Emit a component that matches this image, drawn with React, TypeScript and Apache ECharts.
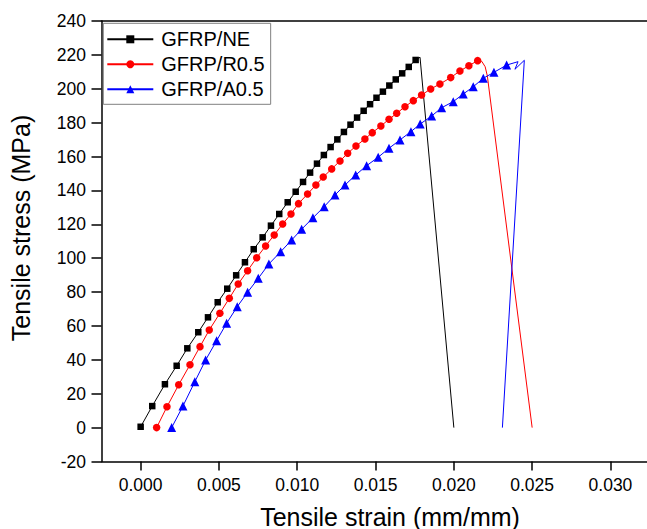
import React, { useEffect, useRef } from 'react';
import * as echarts from 'echarts';

// GFRP/NE (black squares)
const neStrain = [0.0, 0.00074, 0.00155, 0.0023, 0.00298, 0.00368, 0.0043, 0.00492, 0.00553, 0.0061, 0.00666, 0.00722, 0.00779, 0.00832, 0.00885, 0.00939, 0.0099, 0.01037, 0.01082, 0.01126, 0.0117, 0.01213, 0.01256, 0.01298, 0.0134, 0.01382, 0.01424, 0.01465, 0.01506, 0.01547, 0.01588, 0.01629, 0.0167, 0.01712, 0.01756];
const neStress = [0.5, 12.7, 25.6, 36.5, 46.8, 56.3, 65.1, 74.0, 82.0, 89.9, 97.6, 105.3, 112.3, 119.2, 126.1, 133.0, 139.2, 145.0, 150.5, 155.8, 160.9, 165.6, 170.1, 174.5, 178.8, 183.0, 187.0, 190.9, 194.7, 198.3, 201.9, 205.5, 209.1, 212.9, 217.0];
const neTailStrain = [0.01784, 0.02];
const neTailStress = [218.6, 0];

// GFRP/R0.5 (red circles)
const r05Strain = [0.00102, 0.00168, 0.00243, 0.00315, 0.00379, 0.00438, 0.00506, 0.00566, 0.00623, 0.00683, 0.00741, 0.00798, 0.00853, 0.00907, 0.0096, 0.01008, 0.01066, 0.01119, 0.01166, 0.0122, 0.01273, 0.01322, 0.01375, 0.01432, 0.01479, 0.01534, 0.01586, 0.01635, 0.01688, 0.01741, 0.01794, 0.01852, 0.01911, 0.0198, 0.02039, 0.02096, 0.02152];
const r05Stress = [0, 12.3, 25.3, 37.1, 47.8, 57.6, 67.5, 76.3, 84.8, 92.6, 100.3, 107.2, 113.7, 120.2, 126.1, 132.2, 137.9, 143.2, 147.9, 152.7, 157.4, 161.9, 166.2, 170.4, 174.1, 178.0, 182.0, 185.5, 189.4, 193.0, 196.3, 199.9, 202.8, 206.6, 210.5, 213.6, 216.6];
const r05TailStrain = [0.02178, 0.022, 0.02214, 0.025];
const r05TailStress = [216.2, 213.0, 207.5, 0];

// GFRP/A0.5 (blue triangles)
const a05Strain = [0.00198, 0.0027, 0.00346, 0.00415, 0.00485, 0.00549, 0.00617, 0.00683, 0.00751, 0.00819, 0.00894, 0.00964, 0.01028, 0.011, 0.01172, 0.01241, 0.01305, 0.01373, 0.01443, 0.01517, 0.01586, 0.01656, 0.01726, 0.01785, 0.01858, 0.01922, 0.01996, 0.0206, 0.02124, 0.02188, 0.02256, 0.02337];
const a05Stress = [0, 12.7, 27.1, 39.9, 51.3, 61.6, 71.4, 79.9, 88.1, 96.6, 103.8, 110.7, 117.1, 123.8, 130.4, 137.3, 143.2, 149.1, 154.6, 159.6, 164.9, 169.8, 174.7, 179.2, 183.9, 188.8, 192.4, 196.9, 201.2, 206.2, 209.7, 214.0];
const a05TailStrain = [0.0241, 0.0239, 0.0245, 0.0231];
const a05TailStress = [216.0, 211.5, 216.8, 0];

const seriesNames = ['GFRP/NE', 'GFRP/R0.5', 'GFRP/A0.5'];
const xTickValues = [0, 0.005, 0.01, 0.015, 0.02, 0.025, 0.03];
const xTitle = 'Tensile strain (mm/mm)';
const yTitle = 'Tensile stress (MPa)';

const FONT = '"Liberation Sans", Arial, sans-serif';

function build(xs: number[], ys: number[], tx: number[], ty: number[]) {
  return [
    ...xs.map((x, i) => [x, ys[i]]),
    ...tx.map((x, i) => ({ value: [x, ty[i]], symbol: 'none' })),
  ];
}

export default function App() {
  const ref = useRef<HTMLDivElement>(null);
  useEffect(() => {
    document.body.style.margin = '0';
    document.body.style.overflow = 'hidden';
    const chart = echarts.init(ref.current!, null, { renderer: 'svg' });
    const axisLineStyle = { color: '#000', width: 1.5 };
    const option: any = {
      animation: false,
      backgroundColor: '#fff',
      grid: { left: 101.5, top: 21, right: 0, bottom: 67.5, containLabel: false, outerBoundsMode: 'none' },
      legend: {
        orient: 'vertical',
        left: 103.3,
        top: 23.3,
        padding: [6, 6, 5, 3],
        itemWidth: 46,
        itemHeight: 10,
        itemGap: 5,
        borderColor: '#808080',
        borderWidth: 1,
        backgroundColor: '#fff',
        data: seriesNames,
        textStyle: { fontFamily: FONT, fontSize: 20, color: '#000', lineHeight: 20, padding: [0, 0, 0, 3] },
      },
      xAxis: [
        {
          type: 'value',
          min: -0.0025,
          max: 0.032334,
          position: 'bottom',
          axisLine: { show: true, onZero: false, lineStyle: axisLineStyle },
          axisTick: { show: true, inside: false, length: 9, customValues: xTickValues, lineStyle: axisLineStyle },
          axisLabel: {
            customValues: xTickValues,
            formatter: (v: number) => v.toFixed(3),
            fontFamily: FONT,
            fontSize: 17.5,
            color: '#000',
            margin: 14,
          },
          splitLine: { show: false },
        },
        {
          type: 'value',
          min: -0.0025,
          max: 0.032334,
          position: 'top',
          axisLine: { show: true, onZero: false, lineStyle: axisLineStyle },
          axisTick: { show: false },
          axisLabel: { show: false },
          splitLine: { show: false },
        },
      ],
      yAxis: {
        type: 'value',
        min: -20,
        max: 240,
        interval: 20,
        axisLine: { show: true, onZero: false, lineStyle: axisLineStyle },
        axisTick: { show: true, inside: false, length: 10, lineStyle: axisLineStyle },
        axisLabel: { fontFamily: FONT, fontSize: 17.5, color: '#000', margin: 15.5 },
        splitLine: { show: false },
      },
      graphic: [
        {
          type: 'text',
          x: 390,
          y: 516.5,
          style: { text: xTitle, font: `25px ${FONT}`, fill: '#000', align: 'center', verticalAlign: 'middle' },
        },
        {
          type: 'text',
          x: 20.5,
          y: 228,
          rotation: Math.PI / 2,
          style: { text: yTitle, font: `25px ${FONT}`, fill: '#000', align: 'center', verticalAlign: 'middle' },
        },
      ],
      series: [
        {
          name: seriesNames[0],
          type: 'line',
          data: build(neStrain, neStress, neTailStrain, neTailStress),
          symbol: 'rect',
          symbolSize: 6.5,
          showAllSymbol: true,
          color: '#000000',
          lineStyle: { width: 1, color: '#000000' },
          itemStyle: { color: '#000000' },
        },
        {
          name: seriesNames[1],
          type: 'line',
          data: build(r05Strain, r05Stress, r05TailStrain, r05TailStress),
          symbol: 'circle',
          symbolSize: 7.5,
          showAllSymbol: true,
          color: '#ff0000',
          lineStyle: { width: 1, color: '#ff0000' },
          itemStyle: { color: '#ff0000' },
        },
        {
          name: seriesNames[2],
          type: 'line',
          data: build(a05Strain, a05Stress, a05TailStrain, a05TailStress),
          symbol: 'triangle',
          symbolSize: 9,
          showAllSymbol: true,
          color: '#0000ff',
          lineStyle: { width: 1, color: '#0000ff' },
          itemStyle: { color: '#0000ff' },
        },
      ],
    };
    chart.setOption(option);
    return () => chart.dispose();
  }, []);
  return <div ref={ref} style={{ width: 647, height: 529 }} />;
}
